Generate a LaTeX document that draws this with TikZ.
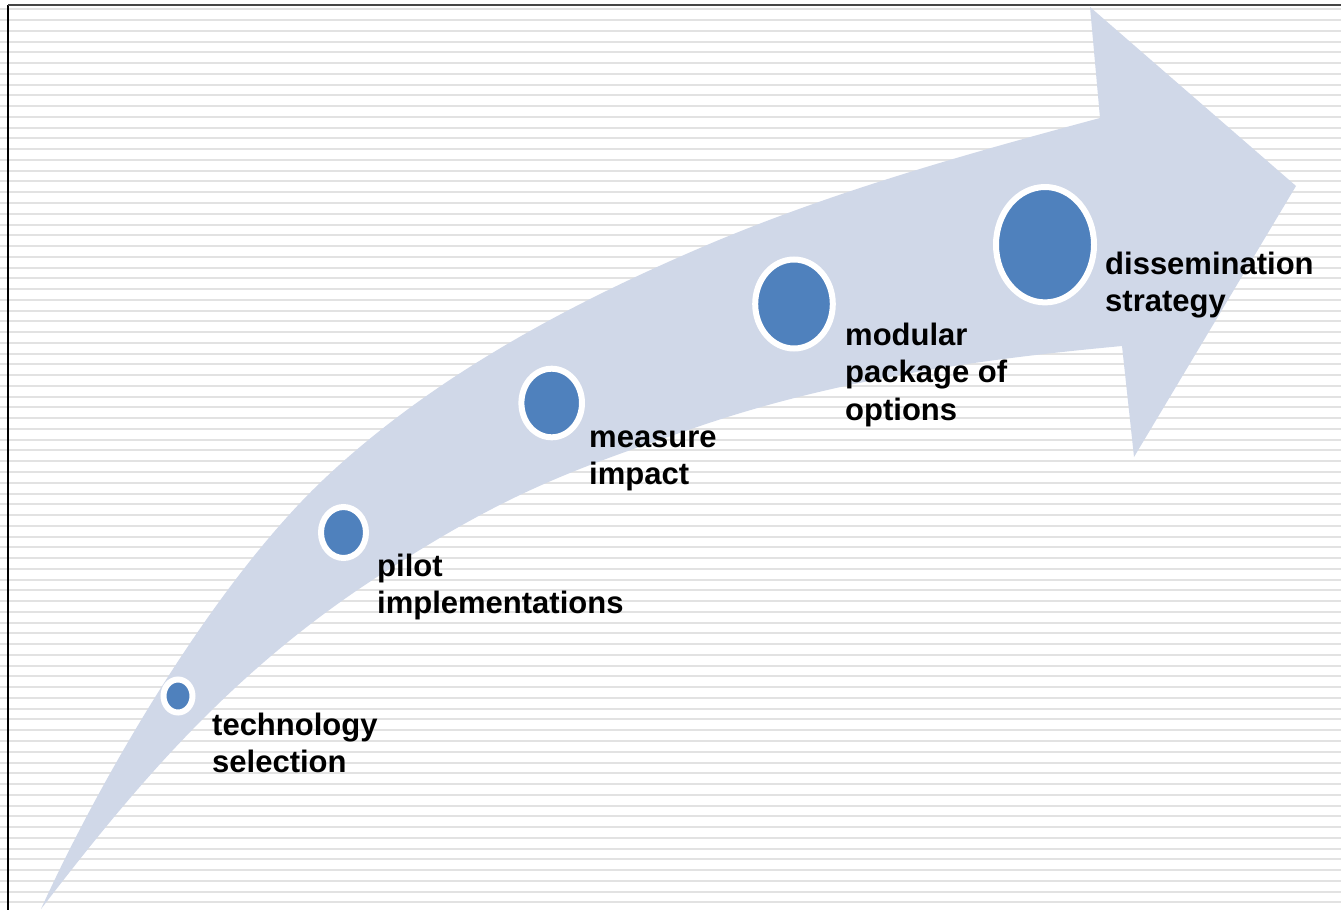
\documentclass[tikz,border=0pt]{standalone}
\usepackage{fontspec}
\setmainfont{Liberation Sans}
\usetikzlibrary{shapes.geometric}
\definecolor{arrowfill}{RGB}{208,216,232}
\definecolor{dotblue}{RGB}{79,129,189}
\definecolor{stripegray}{RGB}{226,226,226}
\definecolor{framegray}{RGB}{70,70,70}
\tikzset{
  stripe/.style={draw=stripegray, line width=2pt},
  dot/.style={ellipse, fill=dotblue, draw=white, line width=6pt, inner sep=0pt},
  lbl/.style={anchor=base west, align=left, inner sep=0pt, font=\bfseries\fontsize{31}{37.5}\selectfont, text=black}
}
\begin{document}
\begin{tikzpicture}[x=1pt,y=-1pt]
\useasboundingbox (0,0) rectangle (1341,910);
\fill[white] (0,0) rectangle (1341,910);
% background stripes
\foreach \i in {0,...,84}{
  \draw[stripe] (0,{9.3+10.76*\i}) -- (1341,{9.3+10.76*\i});
}
% frame
\draw[black, line width=1.5pt] (8,5) -- (8,910);
\draw[framegray, line width=2pt] (8,5) -- (1341,5);
% curved arrow
\coordinate (tail) at (41,909);
\coordinate (ua) at (323,480);
\coordinate (ub) at (700,248);
\coordinate (uc) at (1100,118);
\coordinate (hb1) at (1090,7);
\coordinate (tip) at (1296,186);
\coordinate (hb2) at (1134,457);
\coordinate (la) at (1122,346);
\coordinate (lb) at (700,426);
\coordinate (lc) at (377,577);
\fill[arrowfill] (tail)
  .. controls (101,777) and (213,584.5) .. (ua)
  .. controls (438,370.7) and (585,297.5) .. (ub)
  .. controls (830,192) and (970,153) .. (uc)
  -- (hb1) -- (tip) -- (hb2) -- (la)
  .. controls (982,359) and (840,378.4) .. (lb)
  .. controls (570,470.2) and (507,492.5) .. (lc)
  .. controls (227,674.5) and (131,792) .. (tail)
  -- cycle;
% dots
\node[dot, minimum width=29pt, minimum height=33pt] (d1) at (178,696) {};
\node[dot, minimum width=45pt, minimum height=51pt] (d2) at (343.5,532.5) {};
\node[dot, minimum width=60.6pt, minimum height=68.6pt] (d3) at (551.7,403) {};
\node[dot, minimum width=77.6pt, minimum height=89pt] (d4) at (794,304) {};
\node[dot, minimum width=98pt, minimum height=115.4pt] (d5) at (1045,244.7) {};
% labels (anchored at baseline of last line)
\node[lbl] (t1) at (212,772.5) {technology\\selection};
\node[lbl] (t2) at (377,613.5) {pilot\\implementations};
\node[lbl] (t3) at (589,484.5) {measure\\impact};
\node[lbl] (t4) at (845,420) {modular\\package of\\options};
\node[lbl] (t5) at (1105,311.5) {dissemination\\strategy};
\end{tikzpicture}
\end{document}
